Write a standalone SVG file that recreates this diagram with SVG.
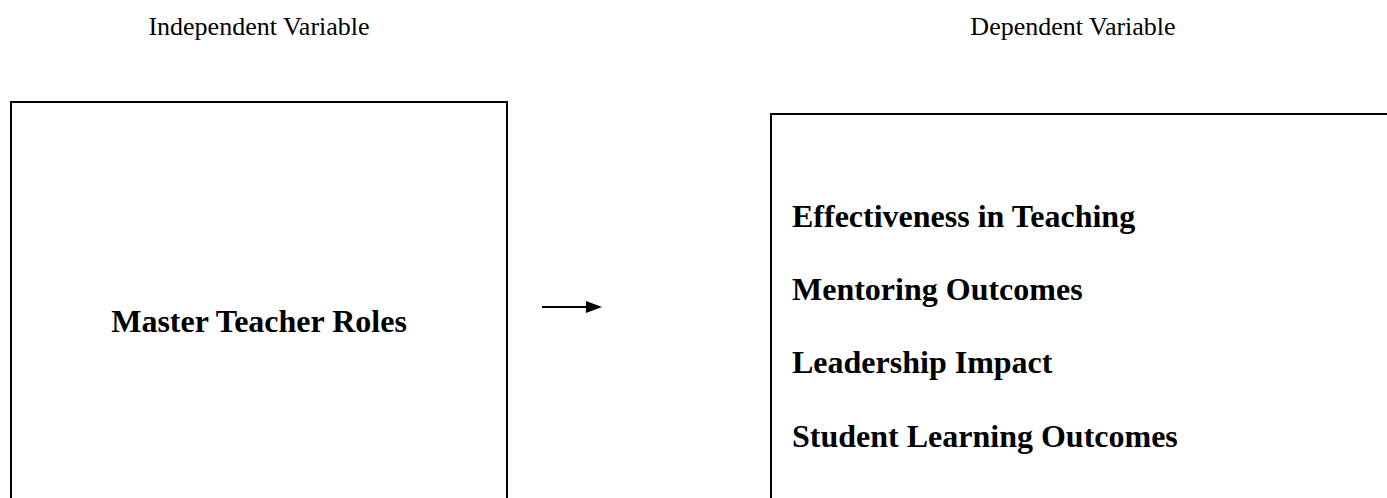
<svg xmlns="http://www.w3.org/2000/svg" width="1387" height="498" viewBox="0 0 1387 498">
<style>
.box{fill:none;stroke:#000;stroke-width:2}
.lbl{font-family:"Liberation Serif","Times New Roman",serif;font-size:26px;fill:#000}
.bold{font-family:"Liberation Serif","Times New Roman",serif;font-size:32px;font-weight:bold;fill:#000}
</style>
<rect width="1387" height="498" fill="#fff"/>
<g id="header-independent"><text class="lbl" x="259" y="35" text-anchor="middle">Independent Variable</text></g>
<g id="header-dependent"><text class="lbl" x="1073" y="35" text-anchor="middle">Dependent Variable</text></g>
<g id="node-independent">
<rect class="box" x="11" y="102" width="496" height="420"/>
<text class="bold" x="259" y="332" text-anchor="middle">Master Teacher Roles</text>
</g>
<g id="node-dependent">
<rect class="box" x="771" y="114" width="700" height="420"/>
<text class="bold" x="792" y="227">Effectiveness in Teaching</text>
<text class="bold" x="792" y="300">Mentoring Outcomes</text>
<text class="bold" x="792" y="373">Leadership Impact</text>
<text class="bold" x="792" y="447">Student Learning Outcomes</text>
</g>
<g id="connectors">
<line x1="542" y1="307" x2="588" y2="307" stroke="#000" stroke-width="2"/>
<polygon points="586,301 602,307 586,313" fill="#000"/>
</g>
</svg>
